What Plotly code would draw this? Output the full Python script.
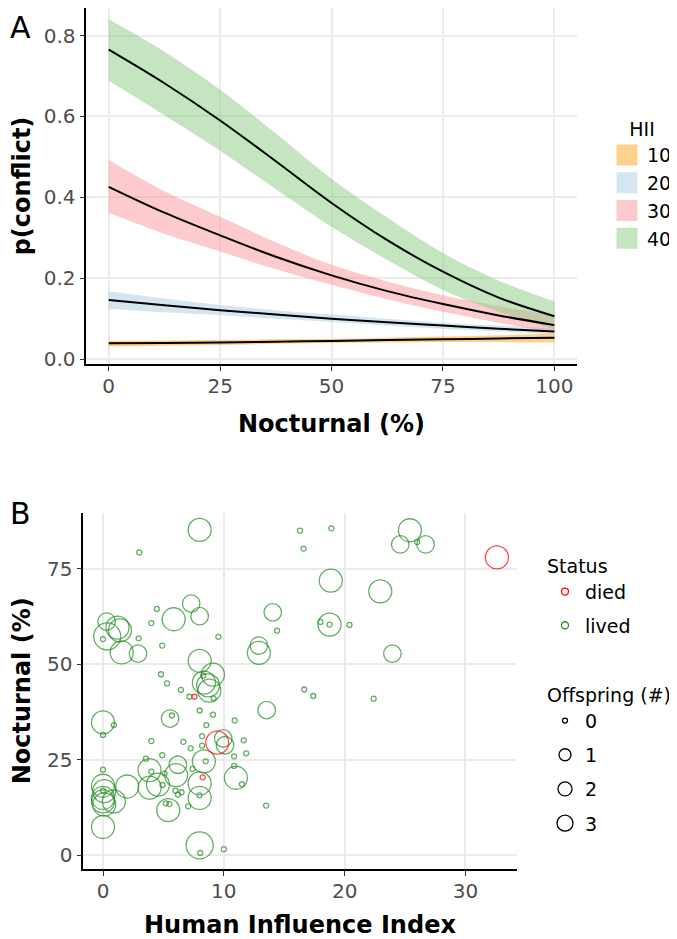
import plotly.graph_objects as go

# ---------------- Panel A data ----------------
noct_x = [0, 12.5, 25, 37.5, 50, 62.5, 75, 87.5, 100]
hii_levels = ["10", "20", "30", "40"]

fit10 = [0.039, 0.040, 0.041, 0.043, 0.045, 0.047, 0.049, 0.051, 0.053]
lo10 = [0.031, 0.033, 0.035, 0.038, 0.040, 0.041, 0.042, 0.042, 0.041]
hi10 = [0.045, 0.046, 0.047, 0.049, 0.050, 0.053, 0.056, 0.059, 0.063]

fit20 = [0.146, 0.133, 0.121, 0.110, 0.100, 0.091, 0.083, 0.075, 0.068]
lo20 = [0.124, 0.116, 0.109, 0.100, 0.092, 0.083, 0.075, 0.068, 0.061]
hi20 = [0.168, 0.150, 0.134, 0.121, 0.110, 0.100, 0.090, 0.083, 0.076]

fit30 = [0.426, 0.362, 0.306, 0.253, 0.207, 0.168, 0.136, 0.108, 0.084]
lo30 = [0.362, 0.310, 0.266, 0.222, 0.184, 0.148, 0.117, 0.090, 0.065]
hi30 = [0.492, 0.415, 0.352, 0.289, 0.233, 0.192, 0.158, 0.131, 0.108]

fit40 = [0.765, 0.682, 0.590, 0.489, 0.386, 0.294, 0.216, 0.152, 0.106]
lo40 = [0.688, 0.603, 0.515, 0.420, 0.327, 0.245, 0.171, 0.117, 0.074]
hi40 = [0.840, 0.760, 0.666, 0.558, 0.446, 0.350, 0.262, 0.194, 0.143]

# ---------------- Panel B data ----------------
hii_index = [8.0, 3.0, 16.3, 18.9, 16.6, 25.4, 24.6, 26.7, 26.0, 18.85, 22.95, 7.3, 4.45, 5.85, 8.0,
             14.05, 4.0, 0.3, 1.2, 1.4, 0.35, 0.0, 1.55, 2.9, 2.95, 4.9, 9.55, 8.0, 12.9, 12.9,
             14.4, 18.75, 18.0, 18.75, 20.4, 23.95, 9.1, 8.35, 8.7, 8.8, 8.3, 9.15, 4.8, 5.3, 6.45,
             7.15, 16.65, 17.4, 22.4, 13.55, 8.0, 9.1, 10.9, 8.55, 5.55, 5.7, 0.0, 0.9, 0.0, 4.0,
             6.65, 7.25, 8.2, 8.2, 9.95, 10.1, 11.65, 11.85, 10.85, 10.85, 3.55, 4.9, 8.35, 8.5, 6.2,
             6.05, 7.4, 3.85, 4.0, 5.1, 4.55, 3.86, 4.93, 2.0, 8.0, 8.0, 7.98, 6.0, 6.2, 6.5,
             5.2, 5.5, 5.4, 7.05, 13.5, 11.0, 11.5, 0.0, 0.0, 0.1, 0.0, 0.0, 0.0, 0.1, 0.9,
             0.0, 8.0, 8.05, 10.0,
             32.6, 9.45, 7.57, 8.25]
nocturnal = [85.2, 79.3, 85.0, 85.6, 80.3, 85.1, 81.4, 81.4, 82.0, 71.9, 69.1, 65.9, 64.5, 61.8, 62.6,
             63.6, 60.8, 61.2, 59.6, 58.9, 57.3, 56.6, 53.1, 52.8, 56.8, 54.9, 57.2, 50.9, 54.9, 53.0,
             58.8, 60.4, 61.1, 60.4, 60.3, 52.8, 47.3, 45.2, 44.5, 43.1, 47.0, 41.1, 47.4, 45.0, 43.3,
             41.5, 43.4, 41.7, 41.0, 38.0, 37.9, 36.8, 35.3, 34.1, 35.8, 36.6, 34.8, 34.1, 31.5, 29.9,
             29.7, 28.0, 31.2, 28.7, 30.6, 28.8, 30.1, 26.7, 25.9, 23.4, 25.3, 26.2, 24.6, 24.6, 23.7,
             21.0, 22.6, 22.3, 21.9, 21.4, 18.5, 17.7, 18.4, 18.0, 18.8, 15.0, 15.7, 16.9, 15.9, 16.5,
             13.6, 13.4, 11.8, 12.8, 13.0, 20.3, 18.6, 22.4, 18.2, 16.8, 16.9, 15.0, 14.1, 13.3, 14.1,
             7.4, 2.6, 0.6, 1.6,
             78.0, 29.5, 41.5, 20.4]
offspring = [2, 0, 0, 0, 0, 2, 1, 1, 0, 2, 2, 1, 0, 2, 1,
             1, 0, 1, 2, 2, 3, 0, 2, 1, 0, 0, 0, 2, 1, 2,
             0, 2, 0, 0, 0, 1, 2, 2, 2, 2, 0, 0, 0, 0, 0,
             0, 0, 0, 0, 1, 0, 0, 0, 0, 1, 0, 2, 0, 0, 0,
             0, 0, 0, 0, 1, 1, 0, 0, 0, 0, 0, 0, 2, 0, 1,
             2, 0, 2, 0, 0, 2, 2, 0, 2, 2, 2, 0, 0, 0, 0,
             0, 0, 2, 0, 0, 2, 0, 0, 2, 2, 0, 2, 2, 2, 2,
             2, 3, 0, 0,
             2, 2, 0, 0]
status = ["lived"] * 109 + ["died"] * 4

status_levels = ["died", "lived"]
offspring_levels = [0, 1, 2, 3]

# ---------------- styles ----------------
FONT = "DejaVu Sans"
ribbon_fill = {"10": "rgba(253,163,26,0.5)", "20": "rgba(171,205,227,0.5)",
               "30": "rgba(251,149,157,0.5)", "40": "rgba(137,203,129,0.5)"}
legend_fill = {"10": "#FED18C", "20": "#D5E6F1", "30": "#FDCACE", "40": "#C4E5C0"}
status_color = {"died": "red", "lived": "forestgreen"}
size_map = {0: 5, 1: 17.5, 2: 23, 3: 27}
legend_size_map = {0: 5, 1: 12, 2: 14, 3: 16}

# page offset of the figure inside the browser page (default body margin)
OFF = 8
W, H = 677 - OFF, 939 - OFF
ML, MT = 83 - OFF, 0
MR = W - (577 - OFF)
MB = H - (869 - OFF)
PW, PH = W - ML - MR, H - MT - MB


def px_x(p):  # window pixel -> paper x
    return (p - OFF - ML) / PW


def px_y(p):  # window pixel -> paper y
    return 1 - (p - OFF - MT) / PH


fig = go.Figure()

series = {"10": (fit10, lo10, hi10), "20": (fit20, lo20, hi20),
          "30": (fit30, lo30, hi30), "40": (fit40, lo40, hi40)}

for lev in hii_levels:
    fit, lo, hi = series[lev]
    fig.add_trace(go.Scatter(x=noct_x, y=hi, mode="lines", line=dict(width=0, shape="spline"),
                             showlegend=False, hoverinfo="skip", xaxis="x", yaxis="y"))
    fig.add_trace(go.Scatter(x=noct_x, y=lo, mode="lines", line=dict(width=0, shape="spline"),
                             fill="tonexty", fillcolor=ribbon_fill[lev], showlegend=False,
                             hoverinfo="skip", xaxis="x", yaxis="y"))
for lev in hii_levels:
    fit, lo, hi = series[lev]
    fig.add_trace(go.Scatter(x=noct_x, y=fit, mode="lines",
                             line=dict(color="black", width=2, shape="spline"),
                             showlegend=False, xaxis="x", yaxis="y"))
# legend keys for HII
for lev in hii_levels:
    fig.add_trace(go.Scatter(x=[None], y=[None], mode="markers", name=lev,
                             marker=dict(symbol="square", size=16, color=legend_fill[lev],
                                         line=dict(color=legend_fill[lev], width=5)),
                             legend="legend", xaxis="x", yaxis="y"))

# Panel B scatter
for st in ["lived", "died"]:
    idx = [i for i, s in enumerate(status) if s == st]
    fig.add_trace(go.Scatter(
        x=[hii_index[i] for i in idx], y=[nocturnal[i] for i in idx], mode="markers",
        marker=dict(symbol="circle-open", size=[size_map[offspring[i]] for i in idx],
                    color=status_color[st], line=dict(width=1.3)),
        showlegend=False, xaxis="x2", yaxis="y2"))

for st in status_levels:
    fig.add_trace(go.Scatter(x=[None], y=[None], mode="markers", name=st,
                             marker=dict(symbol="circle-open", size=7, color=status_color[st],
                                         line=dict(width=1.3)),
                             legend="legend2", legendgroup="s_" + st, xaxis="x2", yaxis="y2"))
for o in offspring_levels:
    fig.add_trace(go.Scatter(x=[None], y=[None], mode="markers", name=str(o),
                             marker=dict(symbol="circle-open", size=legend_size_map[o], color="black",
                                         line=dict(width=1.3)),
                             legend="legend3", legendgroup="o_" + str(o), xaxis="x2", yaxis="y2"))

tickfont = dict(family=FONT, size=20, color="#4D4D4D")
titlefont = dict(family=FONT, size=24, color="black", weight="bold")
common = dict(showgrid=True, gridcolor="#EBEBEB", gridwidth=1.5, zeroline=False,
              showline=True, linecolor="black", linewidth=1.6, ticks="outside",
              ticklen=5, tickwidth=1, tickcolor="#333333", tickfont=tickfont,
              automargin=False)

legfont = dict(family=FONT, size=19, color="black")

# panel A y range so that 0 sits at y=359 px and 0.8 at y=35.5 px in the window
a_top = 8
a_bot = 364
ppu = (359.1 - 35.5) / 0.8
a_range = [-(a_bot - 359.1) / ppu, (359.1 - a_top) / ppu]

fig.update_layout(
    width=W, height=H, template="none",
    margin=dict(l=ML, r=MR, t=MT, b=MB, autoexpand=False),
    paper_bgcolor="white", plot_bgcolor="white",
    xaxis=dict(domain=[px_x(86.4), px_x(576.7)], range=[-5, 105], anchor="y",
               tickvals=[0, 25, 50, 75, 100], ticklabelstandoff=-2,
               title=dict(text="Nocturnal (%)", font=titlefont, standoff=18), **common),
    yaxis=dict(domain=[px_y(a_bot), px_y(a_top)], range=a_range, anchor="x",
               tickvals=[0, 0.2, 0.4, 0.6, 0.8], tickformat=".1f", ticklabelstandoff=0,
               title=dict(text="p(conflict)", font=titlefont, standoff=18), **common),
    xaxis2=dict(domain=[px_x(83.3), px_x(516.6)], range=[-1.63, 34.23], anchor="y2",
                tickvals=[0, 10, 20, 30], ticklabelstandoff=-2,
                title=dict(text="Human Influence Index", font=titlefont, standoff=18), **common),
    yaxis2=dict(domain=[px_y(869), px_y(512.7)], range=[-3.6, 89.7], anchor="x2",
                tickvals=[0, 25, 50, 75], ticklabelstandoff=0,
                title=dict(text="Nocturnal (%)", font=titlefont, standoff=14), **common),
    legend=dict(x=px_x(607), y=px_y(111.5), xanchor="left", yanchor="top",
                title=dict(text="HII", font=legfont, side="top center"), font=legfont,
                traceorder="normal",
                bgcolor="rgba(0,0,0,0)", itemsizing="trace", tracegroupgap=0),
    legend2=dict(x=px_x(545), y=px_y(548), xanchor="left", yanchor="top",
                 title=dict(text="Status", font=legfont), font=legfont, traceorder="grouped",
                 bgcolor="rgba(0,0,0,0)", itemsizing="trace", tracegroupgap=6),
    legend3=dict(x=px_x(545), y=px_y(677), xanchor="left", yanchor="top",
                 title=dict(text="Offspring (#)", font=legfont), font=legfont, traceorder="grouped",
                 bgcolor="rgba(0,0,0,0)", itemsizing="trace", tracegroupgap=6.5),
    annotations=[
        dict(text="A", x=px_x(8), y=px_y(8), xref="paper", yref="paper", xanchor="left",
             yanchor="top", showarrow=False, font=dict(family=FONT, size=30, color="black")),
        dict(text="B", x=px_x(8), y=px_y(494), xref="paper", yref="paper", xanchor="left",
             yanchor="top", showarrow=False, font=dict(family=FONT, size=30, color="black")),
    ],
)

fig.write_html("out.html")
